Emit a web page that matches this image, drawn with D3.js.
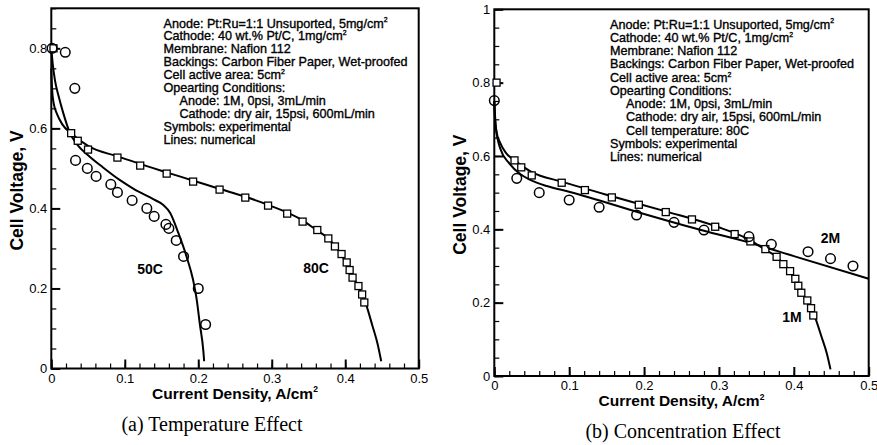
<!DOCTYPE html>
<html>
<head>
<meta charset="utf-8">
<script src="https://cdn.jsdelivr.net/npm/d3@7"></script>
<style>
  body { margin: 0; background: #fff; }
  svg { display: block; }
</style>
</head>
<body>
<svg id="chart" width="877" height="445"></svg>
<script>
// ---- data ----
const xTicks = [0, 0.1, 0.2, 0.3, 0.4, 0.5];
const yTicksA = [0, 0.2, 0.4, 0.6, 0.8];
const yTicksB = [0, 0.2, 0.4, 0.6, 0.8, 1];

// squares: 80C (panel a) == 1M (panel b)
const sqX = [0.003, 0.027, 0.036, 0.050, 0.090, 0.121, 0.157, 0.193, 0.229, 0.264, 0.295, 0.321,
  0.342, 0.362, 0.377, 0.386, 0.395, 0.402, 0.406, 0.410, 0.418, 0.423, 0.426];
const sqY = [0.800, 0.588, 0.569, 0.547, 0.527, 0.507, 0.487, 0.467, 0.447, 0.427, 0.407, 0.387,
  0.367, 0.346, 0.325, 0.305, 0.286, 0.265, 0.246, 0.227, 0.206, 0.185, 0.165];

// circles: 50C (panel a)
const c50X = [0.001, 0.019, 0.032, 0.033, 0.049, 0.061, 0.081, 0.090, 0.110, 0.130, 0.140,
  0.156, 0.160, 0.170, 0.180, 0.200, 0.210];
const c50Y = [0.800, 0.790, 0.700, 0.520, 0.500, 0.480, 0.460, 0.440, 0.420, 0.400, 0.380,
  0.360, 0.350, 0.320, 0.280, 0.200, 0.110];

// circles: 2M (panel b)
const c2MX = [0.000, 0.030, 0.060, 0.100, 0.140, 0.190, 0.240, 0.280, 0.340, 0.370, 0.419, 0.449, 0.479];
const c2MY = [0.751, 0.539, 0.500, 0.480, 0.460, 0.439, 0.419, 0.398, 0.380, 0.359, 0.339, 0.320, 0.300];

// numerical lines
const l80X = [0, 0.001, 0.003, 0.008, 0.015, 0.027, 0.050, 0.090, 0.157, 0.229, 0.295, 0.342,
  0.359, 0.377, 0.395, 0.406, 0.417, 0.428, 0.437, 0.444, 0.449];
const l80Y = [0.75, 0.70, 0.665, 0.635, 0.61, 0.588, 0.556, 0.53, 0.49, 0.449, 0.409, 0.37,
  0.348, 0.325, 0.284, 0.244, 0.207, 0.162, 0.107, 0.062, 0.018];

const l50X = [0, 0.002, 0.005, 0.010, 0.016, 0.025, 0.035, 0.050, 0.070, 0.094, 0.112, 0.140,
  0.152, 0.162, 0.173, 0.184, 0.193, 0.198, 0.202, 0.207, 0.208];
const l50Y = [0.80, 0.76, 0.72, 0.68, 0.64, 0.59, 0.56, 0.533, 0.503, 0.47, 0.449, 0.422,
  0.409, 0.388, 0.338, 0.28, 0.221, 0.171, 0.113, 0.042, 0.018];

const l2MX = [0, 0.002, 0.008, 0.020, 0.035, 0.048, 0.070, 0.101, 0.200, 0.280, 0.340, 0.400, 0.500];
const l2MY = [0.75, 0.68, 0.62, 0.58, 0.55, 0.535, 0.518, 0.502, 0.442, 0.396, 0.364, 0.327, 0.265];

const notesA = [
  "Anode: Pt:Ru=1:1 Unsuported, 5mg/cm^2",
  "Cathode: 40 wt.% Pt/C, 1mg/cm^2",
  "Membrane: Nafion 112",
  "Backings: Carbon Fiber Paper, Wet-proofed",
  "Cell active area: 5cm^2",
  "Opearting Conditions:",
  ">Anode: 1M, 0psi, 3mL/min",
  ">Cathode: dry air, 15psi, 600mL/min",
  "Symbols: experimental",
  "Lines: numerical"
];
const notesB = [
  "Anode: Pt:Ru=1:1 Unsuported, 5mg/cm^2",
  "Cathode: 40 wt.% Pt/C, 1mg/cm^2",
  "Membrane: Nafion 112",
  "Backings: Carbon Fiber Paper, Wet-proofed",
  "Cell active area: 5cm^2",
  "Opearting Conditions:",
  ">Anode: 1M, 0psi, 3mL/min",
  ">Cathode: dry air, 15psi, 600mL/min",
  ">Cell temperature: 80C",
  "Symbols: experimental",
  "Lines: numerical"
];

const zip = (xs, ys) => xs.map((x, i) => [x, ys[i]]);

const svg = d3.select("#chart");
const sans = "'Liberation Sans', Arial, sans-serif";

// text with "^2" rendered as a superscript
function supText(sel, str, size) {
  const parts = str.split("^2");
  parts.forEach((p, i) => {
    sel.append("tspan").text(p);
    if (i < parts.length - 1) {
      sel.append("tspan").attr("dy", -size * 0.4).attr("font-size", size * 0.55).text("2");
      sel.append("tspan").attr("dy", size * 0.4).text("");
    }
  });
}

function drawPanel(cfg) {
  const g = svg.append("g");
  const x = d3.scaleLinear().domain([0, 0.5]).range(cfg.xr);
  const y = d3.scaleLinear().domain(cfg.yd).range(cfg.yr);
  const bottom = cfg.yr[0];
  const left = cfg.xr[0];

  // minor ticks
  g.append("g")
    .attr("transform", `translate(0,${bottom})`)
    .call(d3.axisBottom(x).tickValues(d3.range(0, 0.5001, 0.02)).tickSize(-5).tickFormat(""))
    .call(a => a.select(".domain").remove())
    .call(a => a.selectAll("line").attr("stroke-width", 1.2));
  g.append("g")
    .attr("transform", `translate(${left},0)`)
    .call(d3.axisLeft(y).tickValues(d3.range(0, cfg.yd[1] + 0.001, 0.05)).tickSize(-5).tickFormat(""))
    .call(a => a.select(".domain").remove())
    .call(a => a.selectAll("line").attr("stroke-width", 1.2));

  // major ticks + labels
  g.append("g")
    .attr("transform", `translate(0,${bottom})`)
    .call(d3.axisBottom(x).tickValues(xTicks).tickSize(-9).tickPadding(5).tickFormat(d3.format("")))
    .call(a => a.select(".domain").remove())
    .call(a => a.selectAll("line").attr("stroke-width", 2))
    .call(a => a.selectAll("text").attr("font-family", sans).attr("font-size", 13).attr("fill", "#000"));
  g.append("g")
    .attr("transform", `translate(${left},0)`)
    .call(d3.axisLeft(y).tickValues(cfg.yTicks).tickSize(-9).tickPadding(4).tickFormat(d3.format("")))
    .call(a => a.select(".domain").remove())
    .call(a => a.selectAll("line").attr("stroke-width", 2))
    .call(a => a.selectAll("text").attr("font-family", sans).attr("font-size", 13).attr("fill", "#000"));

  // frame
  g.append("rect")
    .attr("x", left).attr("y", cfg.yr[1])
    .attr("width", cfg.xr[1] - left).attr("height", bottom - cfg.yr[1])
    .attr("fill", "none").attr("stroke", "#000").attr("stroke-width", 2);

  // lines
  const line = d3.line().x(d => x(d[0])).y(d => y(d[1])).curve(d3.curveMonotoneX);
  cfg.lines.forEach(l => {
    g.append("path").datum(l).attr("d", line)
      .attr("fill", "none").attr("stroke", "#000").attr("stroke-width", 2);
  });

  // squares
  g.selectAll(".sq").data(cfg.squares).join("rect")
    .attr("x", d => x(d[0]) - 3.5).attr("y", d => y(d[1]) - 3.5)
    .attr("width", 7).attr("height", 7)
    .attr("fill", "#fff").attr("stroke", "#000").attr("stroke-width", 1.3);

  // circles
  g.selectAll(".ci").data(cfg.circles).join("circle")
    .attr("cx", d => x(d[0])).attr("cy", d => y(d[1])).attr("r", 4.8)
    .attr("fill", "none").attr("stroke", "#000").attr("stroke-width", 1.5);

  // curve labels
  cfg.labels.forEach(l => {
    g.append("text").attr("x", l.x).attr("y", l.y)
      .attr("text-anchor", "middle").attr("font-family", sans)
      .attr("font-weight", "bold").attr("font-size", 14).text(l.t);
  });

  // notes
  cfg.notes.forEach((s, i) => {
    const indent = s.startsWith(">");
    const t = g.append("text")
      .attr("x", cfg.noteX + (indent ? 16 : 0))
      .attr("y", cfg.noteY + i * cfg.noteStep)
      .attr("font-family", sans).attr("font-size", 12.6)
      .attr("stroke", "#000").attr("stroke-width", 0.35);
    supText(t, indent ? s.slice(1) : s, 12.6);
  });

  // axis titles
  const xt = g.append("text")
    .attr("x", (left + cfg.xr[1]) / 2).attr("y", bottom + 30)
    .attr("text-anchor", "middle").attr("font-family", sans)
    .attr("font-weight", "bold").attr("font-size", 15.5);
  supText(xt, "Current Density, A/cm^2", 15.5);

  g.append("text")
    .attr("transform", `translate(${left - 28},${(bottom + cfg.yr[1]) / 2 + 2}) rotate(-90)`)
    .attr("text-anchor", "middle").attr("font-family", sans)
    .attr("font-weight", "bold").attr("font-size", 17.5)
    .text("Cell Voltage, V");

  // caption
  g.append("text")
    .attr("x", cfg.capX).attr("y", bottom + 62)
    .attr("text-anchor", "middle")
    .attr("font-family", "'Liberation Serif', 'Times New Roman', serif")
    .attr("font-size", 20).text(cfg.caption);
}

drawPanel({
  xr: [51.3, 418.7], yd: [0, 0.9], yr: [368.5, 8.3], yTicks: yTicksA,
  lines: [zip(l50X, l50Y), zip(l80X, l80Y)],
  squares: zip(sqX, sqY),
  circles: zip(c50X, c50Y),
  labels: [{ t: "50C", x: 150, y: 274 }, { t: "80C", x: 316, y: 273 }],
  notes: notesA, noteX: 163.5, noteY: 27.5, noteStep: 12.96,
  caption: "(a) Temperature Effect", capX: 212
});

drawPanel({
  xr: [494.3, 868.7], yd: [0, 1], yr: [376, 9.3], yTicks: yTicksB,
  lines: [zip(l2MX, l2MY), zip(l80X, l80Y)],
  squares: zip(sqX, sqY),
  circles: zip(c2MX, c2MY),
  labels: [{ t: "2M", x: 830.5, y: 243 }, { t: "1M", x: 792, y: 322 }],
  notes: notesB, noteX: 610, noteY: 28.5, noteStep: 13.27,
  caption: "(b) Concentration Effect", capX: 683
});
</script>
</body>
</html>
